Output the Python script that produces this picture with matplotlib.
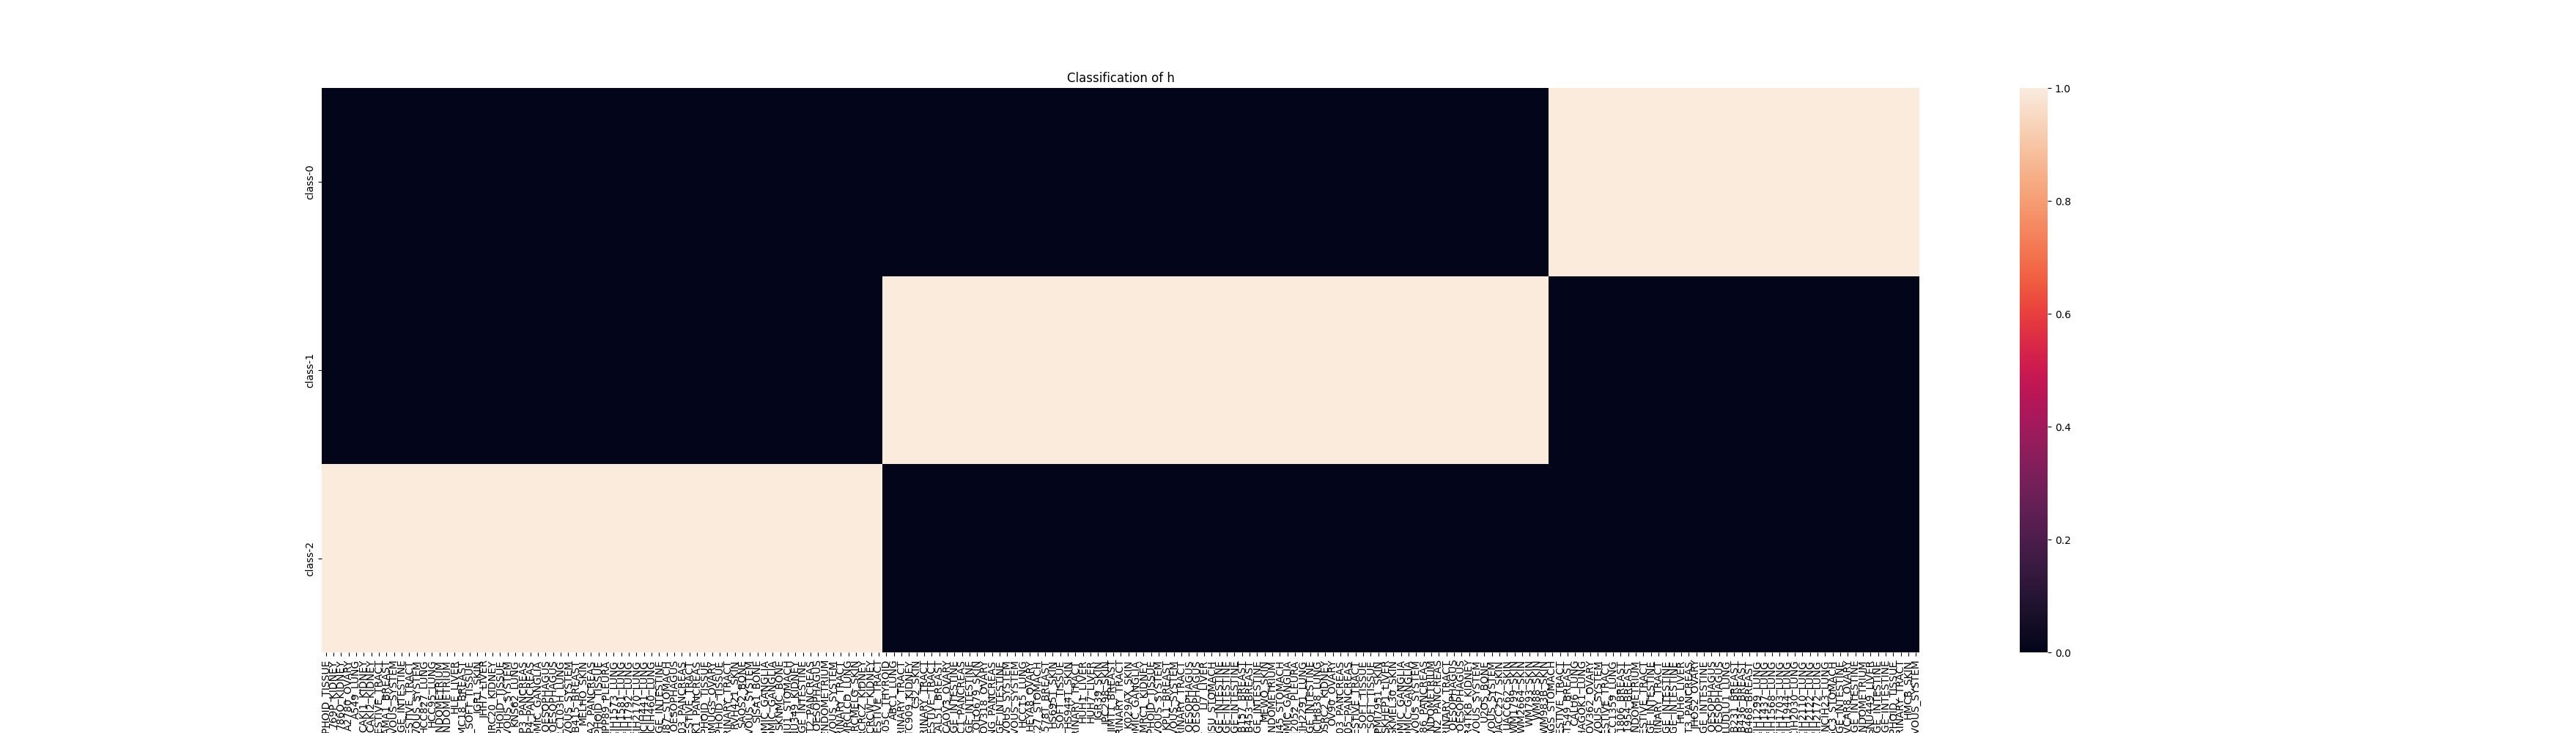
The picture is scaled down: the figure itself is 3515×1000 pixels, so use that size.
import numpy as np
import pandas as pd
import seaborn as sns
from matplotlib import pyplot as plt

# class labels (rows)
classes = ['class-0', 'class-1', 'class-2']

# samples assigned to class-2 (first block of columns)
class2_samples = [
    '697_HAEMATOPOIETIC_AND_LYMPHOID_TISSUE', '769P_KIDNEY', '786O_KIDNEY', 'A2780_OVARY',
    'A549_LUNG', 'CAKI1_KIDNEY', 'CAKI2_KIDNEY', 'CAL27_UPPER_AERODIGESTIVE_TRACT',
    'CAMA1_BREAST', 'CAS1_CENTRAL_NERVOUS_SYSTEM', 'COLO320_LARGE_INTESTINE',
    'DETROIT562_UPPER_AERODIGESTIVE_TRACT', 'DKMG_CENTRAL_NERVOUS_SYSTEM', 'HCC827_LUNG',
    'HCC95_LUNG', 'HEC1A_ENDOMETRIUM', 'HEC1B_ENDOMETRIUM', 'HLE_LIVER', 'HMC18_BREAST',
    'HT1080_SOFT_TISSUE', 'IGR1_SKIN', 'JHH7_LIVER', 'KMRC20_KIDNEY',
    'KMS11_HAEMATOPOIETIC_AND_LYMPHOID_TISSUE', 'KNS42_CENTRAL_NERVOUS_SYSTEM', 'KNS62_LUNG',
    'KP3_PANCREAS', 'KP4_PANCREAS', 'KPNYN_AUTONOMIC_GANGLIA', 'KYSE180_OESOPHAGUS',
    'KYSE30_OESOPHAGUS', 'LCLC103H_LUNG', 'LN229_CENTRAL_NERVOUS_SYSTEM', 'MDAMB415_BREAST',
    'MELHO_SKIN', 'MIAPACA2_PANCREAS', 'MOLM13_HAEMATOPOIETIC_AND_LYMPHOID_TISSUE',
    'MPP89_PLEURA', 'NCIH1573_LUNG', 'NCIH1581_LUNG', 'NCIH1792_LUNG', 'NCIH2170_LUNG',
    'NCIH441_LUNG', 'NCIH460_LUNG', 'NCIH716_LARGE_INTESTINE', 'NCIN87_STOMACH',
    'OE19_OESOPHAGUS', 'PANC0403_PANCREAS', 'PECAPJ15_UPPER_AERODIGESTIVE_TRACT',
    'PK1_PANCREAS', 'REH_HAEMATOPOIETIC_AND_LYMPHOID_TISSUE', 'RMUGS_OVARY',
    'RPMI8226_HAEMATOPOIETIC_AND_LYMPHOID_TISSUE', 'RT4_URINARY_TRACT', 'RVH421_SKIN',
    'SAOS2_BONE', 'SF295_CENTRAL_NERVOUS_SYSTEM', 'SJSA1_BONE', 'SKNBE2_AUTONOMIC_GANGLIA',
    'SKNDZ_AUTONOMIC_GANGLIA', 'SKNMC_BONE', 'SNU1_STOMACH', 'SNU349_KIDNEY',
    'SNUC2A_LARGE_INTESTINE', 'SUIT2_PANCREAS', 'TE1_OESOPHAGUS', 'TEN_ENDOMETRIUM',
    'U251MG_CENTRAL_NERVOUS_SYSTEM', 'UMUC14_URINARY_TRACT', 'VMRCLCD_LUNG',
    'VMRCMELG_SKIN', 'VMRCRCZ_KIDNEY', 'VMRCRCW_KIDNEY', 'YD38_UPPER_AERODIGESTIVE_TRACT',
]

# samples assigned to class-1
class1_samples = [
    '8505C_THYROID', 'ABC1_LUNG', 'BC3C_URINARY_TRACT', 'BFTC909_KIDNEY', 'C32_SKIN',
    'CAL29_URINARY_TRACT', 'CAL33_UPPER_AERODIGESTIVE_TRACT', 'CAL51_BREAST', 'CAOV3_OVARY',
    'CL11_LARGE_INTESTINE', 'CFPAC1_PANCREAS', 'COLO678_LARGE_INTESTINE', 'COLO679_SKIN',
    'COV318_OVARY', 'DANG_PANCREAS', 'DLD1_LARGE_INTESTINE', 'GAMG_CENTRAL_NERVOUS_SYSTEM',
    'GB1_CENTRAL_NERVOUS_SYSTEM', 'HCC15_LUNG', 'HEYA8_OVARY', 'HGC27_STOMACH',
    'HS578T_BREAST', 'HS695T_SKIN', 'HS729_SOFT_TISSUE', 'HS944T_SKIN',
    'HT1376_URINARY_TRACT', 'HUH1_LIVER', 'HUH7_LIVER', 'IGR39_SKIN', 'IPC298_SKIN',
    'JIMT1_BREAST', 'J82_URINARY_TRACT', 'K029AX_SKIN', 'KELLY_AUTONOMIC_GANGLIA',
    'KMRC1_KIDNEY', 'KMS12BM_HAEMATOPOIETIC_AND_LYMPHOID_TISSUE',
    'KNS60_CENTRAL_NERVOUS_SYSTEM', 'KPL1_BREAST', 'KS1_CENTRAL_NERVOUS_SYSTEM',
    'KU1919_URINARY_TRACT', 'KYSE140_OESOPHAGUS', 'KYSE450_OESOPHAGUS', 'LI7_LIVER',
    'LMSU_STOMACH', 'LOVO_LARGE_INTESTINE', 'LS180_LARGE_INTESTINE', 'LS513_LARGE_INTESTINE',
    'MDAMB157_BREAST', 'MDAMB453_BREAST', 'MDST8_LARGE_INTESTINE', 'MEWO_SKIN',
    'MFE296_ENDOMETRIUM', 'MKN45_STOMACH', 'NB1_AUTONOMIC_GANGLIA', 'NCIH2052_PLEURA',
    'NCIH2291_LUNG', 'NCIH508_LARGE_INTESTINE', 'NCIH838_LUNG', 'OSRC2_KIDNEY', 'OV90_OVARY',
    'PANC0203_PANCREAS', 'PANC1005_PANCREAS', 'PECAPJ41_UPPER_AERODIGESTIVE_TRACT',
    'RD_SOFT_TISSUE', 'RH30_SOFT_TISSUE', 'RPMI7951_SKIN', 'SKHEP1_LIVER', 'SKMEL30_SKIN',
    'SKNAS_AUTONOMIC_GANGLIA', 'SKNSH_AUTONOMIC_GANGLIA', 'SNB75_CENTRAL_NERVOUS_SYSTEM',
    'SU8686_PANCREAS', 'SNGM_ENDOMETRIUM', 'TCCPAN2_PANCREAS', 'UMUC1_URINARY_TRACT',
    'TE10_OESOPHAGUS', 'TE11_OESOPHAGUS', 'TUHR4TKB_KIDNEY', 'U118MG_CENTRAL_NERVOUS_SYSTEM',
    'U2OS_BONE', 'U87MG_CENTRAL_NERVOUS_SYSTEM', 'UACC257_SKIN', 'UACC62_SKIN',
    'WM1799_SKIN', 'WM2664_SKIN', 'WM793_SKIN', 'WM88_SKIN', 'WM983B_SKIN',
]

# samples assigned to class-0
class0_samples = [
    'AGS_STOMACH', 'BICR22_UPPER_AERODIGESTIVE_TRACT', 'BT549_BREAST', 'CALU6_LUNG',
    'CHAGOK1_LUNG', 'COV362_OVARY', 'DBTRG05MG_CENTRAL_NERVOUS_SYSTEM',
    'FADU_UPPER_AERODIGESTIVE_TRACT', 'HCC1359_LUNG', 'HCC1806_BREAST', 'HCC1954_BREAST',
    'HEC151_ENDOMETRIUM', 'HSC3_UPPER_AERODIGESTIVE_TRACT', 'HT29_LARGE_INTESTINE',
    'HT1197_URINARY_TRACT', 'HT55_LARGE_INTESTINE', 'HCT116_LARGE_INTESTINE', 'HUH6_LIVER',
    'HUPT3_PANCREAS', 'JHOS2_OVARY', 'KM12_LARGE_INTESTINE', 'KYSE410_OESOPHAGUS',
    'KYSE510_OESOPHAGUS', 'LUDLU1_LUNG', 'MDAMB231_BREAST', 'MDAMB436_BREAST',
    'MDAMB468_BREAST', 'NCIH1299_LUNG', 'NCIH1437_LUNG', 'NCIH1568_LUNG', 'NCIH1703_LUNG',
    'NCIH1944_LUNG', 'NCIH2030_LUNG', 'NCIH2110_LUNG', 'NCIH2122_LUNG', 'NCIH2172_LUNG',
    'NCIH23_LUNG', 'NUGC3_STOMACH', 'RKO_LARGE_INTESTINE', 'OVCAR8_OVARY',
    'SW480_LARGE_INTESTINE', 'RL952_ENDOMETRIUM', 'SNU449_LIVER', 'SW48_LARGE_INTESTINE',
    'SW620_LARGE_INTESTINE', 'U937_HAEMATOPOIETIC_AND_LYMPHOID_TISSUE', 'T24_URINARY_TRACT',
    'HMCB_SKIN', 'SW1088_CENTRAL_NERVOUS_SYSTEM',
]

samples = class2_samples + class1_samples + class0_samples
groups = [class0_samples, class1_samples, class2_samples]

# one-hot membership matrix: rows = classes, columns = samples
mat = np.array([[1.0 if s in g else 0.0 for s in samples] for g in groups])
df = pd.DataFrame(mat, index=classes, columns=samples)

plt.figure(figsize=(35.16, 10), dpi=100)
ax = sns.heatmap(df, xticklabels=True, yticklabels=True)
ax.set_title('Classification of h')

plt.savefig('out.png', dpi=100)
